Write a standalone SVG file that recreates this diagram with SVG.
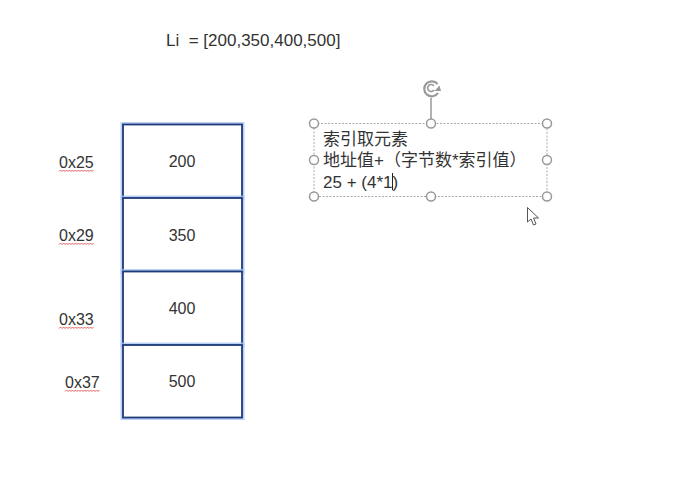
<svg xmlns="http://www.w3.org/2000/svg" width="685" height="487" viewBox="0 0 685 487">
<style>
.t{font-family:"Liberation Sans",Arial,sans-serif;font-size:16px;fill:#333}
.c{font-family:"Liberation Sans","Noto Sans CJK SC",sans-serif;font-size:17px;fill:#333}
.glow{fill:none;stroke:#a9c4f5;stroke-width:5;opacity:0.8}
.cell{fill:#fff;stroke:#1f3a78;stroke-width:1.8}
.h{fill:#fff;stroke:#999;stroke-width:1.5}
.wave{fill:none;stroke:#e05050;stroke-width:0.9}
</style>
<rect width="685" height="487" fill="#fff"/>
<text class="t" x="166" y="46" style="font-size:17px">Li &#160;= [200,350,400,500]</text>
<g id="cell0">
<rect class="glow" x="123" y="124.5" width="119" height="73.5"/>
<rect class="cell" x="123" y="124.5" width="119" height="73.5"/>
<text class="t" x="182" y="167" text-anchor="middle">200</text>
</g>
<g id="cell1">
<rect class="glow" x="123" y="198" width="119" height="73.5"/>
<rect class="cell" x="123" y="198" width="119" height="73.5"/>
<text class="t" x="182" y="241" text-anchor="middle">350</text>
</g>
<g id="cell2">
<rect class="glow" x="123" y="271.5" width="119" height="73.5"/>
<rect class="cell" x="123" y="271.5" width="119" height="73.5"/>
<text class="t" x="182" y="314" text-anchor="middle">400</text>
</g>
<g id="cell3">
<rect class="glow" x="123" y="345" width="119" height="72.5"/>
<rect class="cell" x="123" y="345" width="119" height="72.5"/>
<text class="t" x="182" y="387" text-anchor="middle">500</text>
</g>
<g id="addr0">
<text class="t" x="59" y="168">0x25</text>
<path class="wave" d="M59 171.5 l1.5 -1.5 l1.5 1.5 l1.5 -1.5 l1.5 1.5 l1.5 -1.5 l1.5 1.5 l1.5 -1.5 l1.5 1.5 l1.5 -1.5 l1.5 1.5 l1.5 -1.5 l1.5 1.5 l1.5 -1.5 l1.5 1.5 l1.5 -1.5 l1.5 1.5 l1.5 -1.5 l1.5 1.5 l1.5 -1.5 l1.5 1.5 l1.5 -1.5 l1.5 1.5 l1.5 -1.5"/>
</g>
<g id="addr1">
<text class="t" x="59" y="241">0x29</text>
<path class="wave" d="M59 244.5 l1.5 -1.5 l1.5 1.5 l1.5 -1.5 l1.5 1.5 l1.5 -1.5 l1.5 1.5 l1.5 -1.5 l1.5 1.5 l1.5 -1.5 l1.5 1.5 l1.5 -1.5 l1.5 1.5 l1.5 -1.5 l1.5 1.5 l1.5 -1.5 l1.5 1.5 l1.5 -1.5 l1.5 1.5 l1.5 -1.5 l1.5 1.5 l1.5 -1.5 l1.5 1.5 l1.5 -1.5"/>
</g>
<g id="addr2">
<text class="t" x="59" y="325">0x33</text>
<path class="wave" d="M59 328.5 l1.5 -1.5 l1.5 1.5 l1.5 -1.5 l1.5 1.5 l1.5 -1.5 l1.5 1.5 l1.5 -1.5 l1.5 1.5 l1.5 -1.5 l1.5 1.5 l1.5 -1.5 l1.5 1.5 l1.5 -1.5 l1.5 1.5 l1.5 -1.5 l1.5 1.5 l1.5 -1.5 l1.5 1.5 l1.5 -1.5 l1.5 1.5 l1.5 -1.5 l1.5 1.5 l1.5 -1.5"/>
</g>
<g id="addr3">
<text class="t" x="65" y="388">0x37</text>
<path class="wave" d="M65 391.5 l1.5 -1.5 l1.5 1.5 l1.5 -1.5 l1.5 1.5 l1.5 -1.5 l1.5 1.5 l1.5 -1.5 l1.5 1.5 l1.5 -1.5 l1.5 1.5 l1.5 -1.5 l1.5 1.5 l1.5 -1.5 l1.5 1.5 l1.5 -1.5 l1.5 1.5 l1.5 -1.5 l1.5 1.5 l1.5 -1.5 l1.5 1.5 l1.5 -1.5 l1.5 1.5 l1.5 -1.5"/>
</g>
<g id="textbox">
<rect x="314" y="123.5" width="233" height="73" fill="none" stroke="#aaa" stroke-width="1" stroke-dasharray="2,1.5"/>
<line x1="431" y1="98" x2="431" y2="123.5" stroke="#999" stroke-width="1.5"/>
<path d="M437.5 84 A7.5 7.5 0 1 0 438 93" fill="none" stroke="#999" stroke-width="2.2"/>
<path d="M434 90 A3.5 3.5 0 1 1 434 86" fill="none" stroke="#999" stroke-width="1.6"/>
<path d="M434.5 91 L441 91 L439.5 85.5 Z" fill="#999"/>
<circle class="h" cx="314" cy="123.5" r="4.5"/>
<circle class="h" cx="431" cy="123.5" r="4.5"/>
<circle class="h" cx="547" cy="123.5" r="4.5"/>
<circle class="h" cx="314" cy="160" r="4.5"/>
<circle class="h" cx="547" cy="160" r="4.5"/>
<circle class="h" cx="314" cy="196.5" r="4.5"/>
<circle class="h" cx="431" cy="196.5" r="4.5"/>
<circle class="h" cx="547" cy="196.5" r="4.5"/>
<text class="c" x="323" y="145">索引取元素</text>
<text class="c" x="323" y="166">地址值+（字节数*索引值）</text>
<text class="c" x="323" y="188">25 + (4*1)</text>
<line x1="392.5" y1="173" x2="392.5" y2="190" stroke="#222" stroke-width="1"/>
</g>
<path d="M527.5 207.5 L527.5 222 L531 219 L533.5 225 L536 224 L533.5 218 L538.5 218 Z" fill="#fff" stroke="#555" stroke-width="1"/>
</svg>
